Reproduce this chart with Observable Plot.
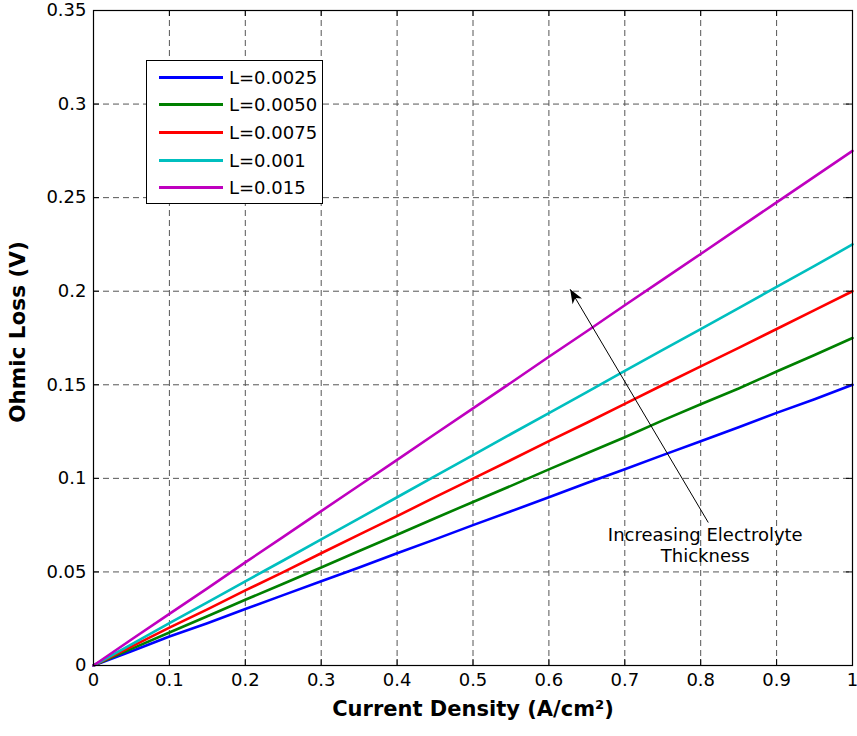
<!DOCTYPE html>
<html>
<head>
<meta charset="utf-8">
<script src="https://cdn.jsdelivr.net/npm/d3@7"></script>
<script src="https://cdn.jsdelivr.net/npm/@observablehq/plot@0.6"></script>
<style>
  body { margin: 0; background: #fff; }
  #wrap { position: relative; width: 857px; height: 736px; font-family: "DejaVu Sans", sans-serif; }
  #legend { position: absolute; left: 146px; top: 60px; width: 175px; height: 142px; border: 1px solid #000; background: #fff; }
  .row { position: absolute; left: 0; height: 20px; display: flex; align-items: center; }
  .sw { width: 64px; height: 3px; margin-left: 12px; margin-right: 6px; }
  .lab { font-size: 18px; color: #000; }
</style>
</head>
<body>
<div id="wrap"></div>
<script>
const xs = [0,0.05,0.1,0.15,0.2,0.25,0.3,0.35,0.4,0.45,0.5,0.55,0.6,0.65,0.7,0.75,0.8,0.85,0.9,0.95,1];
const L0025 = [0,0.0076,0.0155,0.0226,0.0302,0.0376,0.0450,0.0524,0.0600,0.0674,0.0750,0.0824,0.0899,0.0975,0.1049,0.1124,0.1198,0.1273,0.1350,0.1423,0.1500];
const L0050 = [0,0.0089,0.0176,0.0263,0.0351,0.0437,0.0524,0.0612,0.0699,0.0787,0.0874,0.0960,0.1048,0.1134,0.1220,0.1310,0.1396,0.1480,0.1571,0.1659,0.1750];
const L0075 = [0,0.0101,0.0202,0.0300,0.0401,0.0499,0.0600,0.0699,0.0798,0.0900,0.0999,0.1098,0.1199,0.1297,0.1398,0.1499,0.1598,0.1697,0.1798,0.1899,0.2000];
const L001  = [0,0.0113,0.0227,0.0337,0.0450,0.0561,0.0674,0.0786,0.0899,0.1012,0.1124,0.1237,0.1349,0.1461,0.1574,0.1686,0.1797,0.1910,0.2023,0.2135,0.2250];
const L015  = [0,0.0139,0.0276,0.0412,0.0551,0.0687,0.0825,0.0962,0.1099,0.1237,0.1374,0.1511,0.1650,0.1786,0.1925,0.2062,0.2199,0.2337,0.2475,0.2612,0.2750];
const seriesNames = ["L=0.0025","L=0.0050","L=0.0075","L=0.001","L=0.015"];
const seriesValues = [L0025, L0050, L0075, L001, L015];
const seriesColors = ["#0000ff","#008000","#ff0000","#00bfbf","#bf00bf"];
const xTicks = [0,0.1,0.2,0.3,0.4,0.5,0.6,0.7,0.8,0.9,1];
const yTicks = [0,0.05,0.1,0.15,0.2,0.25,0.3,0.35];
const xLabel = "Current Density (A/cm²)";
const yLabel = "Ohmic Loss (V)";
const annotation = {x1: 0.81, y1: 0.0764, x2: 0.628, y2: 0.201, tx: 0.806, ty: 0.0644, text: "Increasing Electrolyte\nThickness"};

const data = [];
seriesValues.forEach((vals, s) => vals.forEach((v, i) => data.push({x: xs[i], y: v, series: seriesNames[s]})));

const fmt = d => d === 0 ? "0" : String(+d.toFixed(2));
const W = 857, H = 736, mL = 93, mR = 5, mT = 10, mB = 71;
const tickLenX = 6 / (H - mT - mB) * 0.35;
const tickLenY = 6 / (W - mL - mR);

function arrowMarker(color, context) {
  const ns = "http://www.w3.org/2000/svg";
  const m = document.createElementNS(ns, "marker");
  m.setAttribute("viewBox", "-15 -7 16 14");
  m.setAttribute("markerWidth", 16);
  m.setAttribute("markerHeight", 14);
  m.setAttribute("markerUnits", "userSpaceOnUse");
  m.setAttribute("orient", "auto");
  m.setAttribute("refX", 0);
  m.setAttribute("refY", 0);
  const p = document.createElementNS(ns, "path");
  p.setAttribute("d", "M0,0L-14,-5.5L-10,0L-14,5.5Z");
  p.setAttribute("fill", "#000");
  p.setAttribute("stroke", "none");
  m.appendChild(p);
  return m;
}

const chart = Plot.plot({
  width: W, height: H,
  marginLeft: mL, marginRight: mR, marginTop: mT, marginBottom: mB,
  style: {fontFamily: "DejaVu Sans, sans-serif", background: "#fff"},
  x: {domain: [0, 1], axis: null},
  y: {domain: [0, 0.35], axis: null},
  color: {domain: seriesNames, range: seriesColors},
  marks: [
    Plot.gridX(xTicks.slice(1, -1), {stroke: "#555", strokeOpacity: 1, strokeWidth: 1, strokeDasharray: "6,4"}),
    Plot.gridY(yTicks.slice(1, -1), {stroke: "#555", strokeOpacity: 1, strokeWidth: 1, strokeDasharray: "6,4"}),
    Plot.line(data, {x: "x", y: "y", stroke: "series", strokeWidth: 2.6, curve: "linear"}),
    Plot.ruleX(xTicks, {y1: 0, y2: tickLenX, stroke: "#000"}),
    Plot.ruleX(xTicks, {y1: 0.35, y2: 0.35 - tickLenX, stroke: "#000"}),
    Plot.ruleY(yTicks, {x1: 0, x2: tickLenY, stroke: "#000"}),
    Plot.ruleY(yTicks, {x1: 1, x2: 1 - tickLenY, stroke: "#000"}),
    Plot.frame({stroke: "#000", strokeWidth: 1.2}),
    Plot.axisX(xTicks, {tickSize: 0, tickPadding: 8, tickFormat: fmt, label: null, fontSize: 18, fill: "#000"}),
    Plot.axisY(yTicks, {tickSize: 0, tickPadding: 7, tickFormat: fmt, label: null, fontSize: 18, fill: "#000"}),
    Plot.text([xLabel], {frameAnchor: "bottom", dy: 50, fontSize: 21, fontWeight: "bold", fill: "#000"}),
    Plot.text([yLabel], {frameAnchor: "left", textAnchor: "middle", lineAnchor: "middle", dx: -75, dy: -6, rotate: -90, fontSize: 21.5, fontWeight: "bold", fill: "#000"}),
    Plot.link([annotation], {x1: "x1", y1: "y1", x2: "x2", y2: "y2", stroke: "#000", strokeWidth: 1, markerEnd: arrowMarker}),
    Plot.text([annotation], {x: "tx", y: "ty", text: "text", fontSize: 18, lineHeight: 1.17, fill: "#000", textAnchor: "middle"})
  ]
});

const wrap = document.getElementById("wrap");
wrap.appendChild(chart);
const legend = document.createElement("div");
legend.id = "legend";
seriesNames.forEach((name, i) => {
  const row = document.createElement("div");
  row.className = "row";
  row.style.top = (6 + i * 27.7) + "px";
  const sw = document.createElement("div");
  sw.className = "sw";
  sw.style.background = seriesColors[i];
  const lab = document.createElement("span");
  lab.className = "lab";
  lab.textContent = name;
  row.appendChild(sw); row.appendChild(lab);
  legend.appendChild(row);
});
wrap.appendChild(legend);
</script>
</body>
</html>
